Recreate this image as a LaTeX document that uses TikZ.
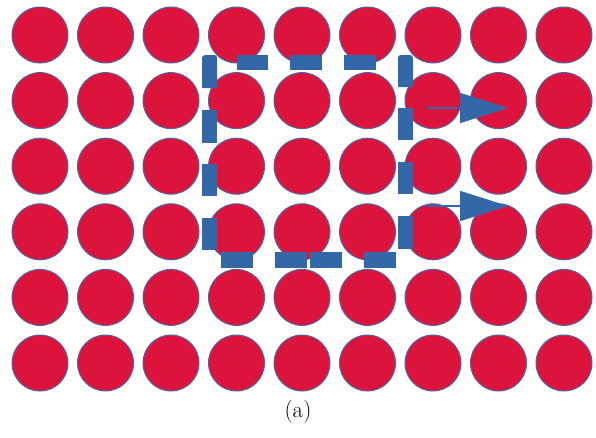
\documentclass[tikz,border=0pt]{standalone}
\usetikzlibrary{arrows.meta}
\definecolor{dotred}{RGB}{220,20,60}
\definecolor{rimblue}{RGB}{80,100,170}
\definecolor{dashblue}{RGB}{52,103,167}
\tikzset{
  dot/.style={circle, fill=dotred, draw=rimblue, line width=1pt, minimum size=56pt, inner sep=0pt},
  hseg/.style={fill=dashblue},
  flow/.style={draw=dashblue, line width=1.5pt, -{Triangle[length=48pt,width=30pt]}}
}
\begin{document}
\begin{tikzpicture}[x=1pt,y=-1pt]
\useasboundingbox (0,0) rectangle (596,437);
% grid of circles
\foreach \i in {0,...,8}{
  \foreach \j in {0,...,5}{
    \node[dot] (c-\i-\j) at ({40+65.5*\i},{35+65.6*\j}) {};
  }
}
% dashed outline drawn as segments
% top
\foreach \a/\b in {237/268, 290/322, 344/376}{
  \fill[hseg] (\a,55) rectangle (\b,70);
}
% bottom
\foreach \a/\b in {221/253, 275/307, 310/342, 364/396}{
  \fill[hseg] (\a,252) rectangle (\b,268);
}
% left
\foreach \a/\b in {110/143, 164/196, 218/250}{
  \fill[hseg] (202,\a) rectangle (217,\b);
}
% right
\foreach \a/\b in {108/140, 162/194, 216/249}{
  \fill[hseg] (398,\a) rectangle (413,\b);
}
% rounded top corners
\fill[hseg] (202,88) -- (202,62) .. controls (202,55) .. (209,55) -- (211,55) .. controls (217,55) .. (217,61) -- (217,88) -- cycle;
\fill[hseg] (398,87) -- (398,61) .. controls (398,55) .. (404,55) -- (406,55) .. controls (413,55) .. (413,62) -- (413,87) -- cycle;
% arrows
\coordinate (a1s) at (426,108);
\coordinate (a1e) at (508,108);
\coordinate (a2s) at (426,206);
\coordinate (a2e) at (508,206);
\draw[flow] (a1s) -- (a1e);
\draw[flow] (a2s) -- (a2e);
% caption
\node[font=\fontsize{23}{27}\selectfont] (cap) at (298,412) {(a)};
\end{tikzpicture}
\end{document}
